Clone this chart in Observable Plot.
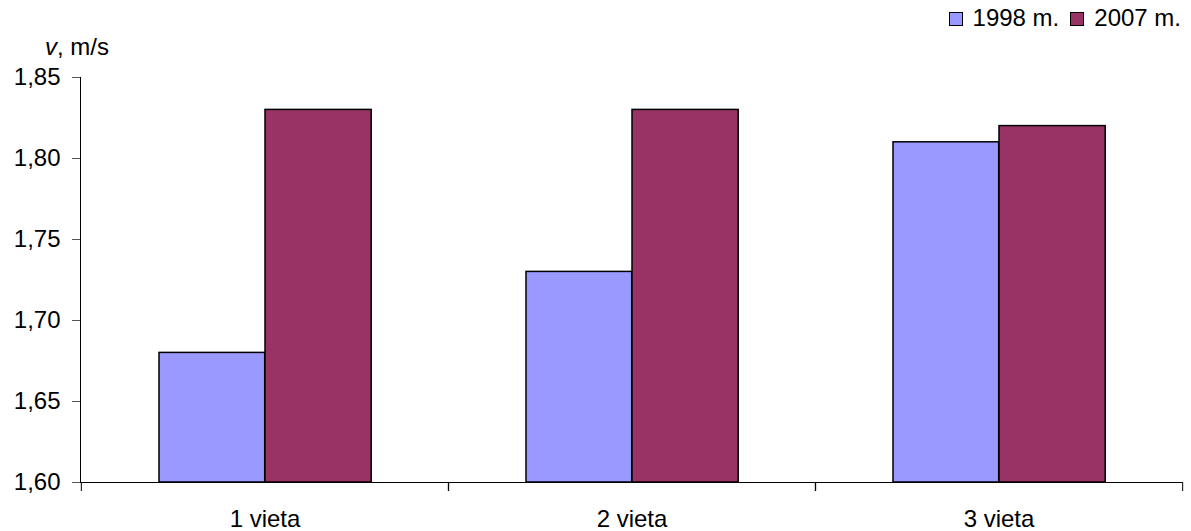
<!DOCTYPE html>
<html>
<head>
<meta charset="utf-8">
<script src="https://cdn.jsdelivr.net/npm/d3@7"></script>
<script src="https://cdn.jsdelivr.net/npm/@observablehq/plot@0.6"></script>
<style>
  body { margin: 0; background: #fff; font-family: "Liberation Sans", Arial, sans-serif; }
  #wrap { position: relative; width: 1191px; height: 531px; }
  #legend { position: absolute; top: 4px; right: 10px; display: flex; align-items: center; font-size: 24px; color: #000; }
  .item { display: flex; align-items: center; margin-left: 11px; }
  .sw { width: 12px; height: 12px; border: 1.5px solid #000; margin-right: 10px; margin-top: 2px; }
</style>
</head>
<body>
<div id="wrap"><div id="legend"></div></div>
<script>
const categories = ["1 vieta", "2 vieta", "3 vieta"];
const series = ["1998 m.", "2007 m."];
const values1998 = [1.68, 1.73, 1.81];
const values2007 = [1.83, 1.83, 1.82];
const colors = ["#9999FF", "#993366"];
const yTicks = [1.60, 1.65, 1.70, 1.75, 1.80, 1.85];
const yLabelItalic = "v";
const yLabelRest = ", m/s";

const data = categories.flatMap((c, i) => [
  {cat: c, series: series[0], value: values1998[i]},
  {cat: c, series: series[1], value: values2007[i]}
]);
const fmt = d => d3.format(".2f")(d).replace(".", ",");

const chart = Plot.plot({
  width: 1191,
  height: 531,
  marginLeft: 80,
  marginRight: 9,
  marginTop: 77,
  marginBottom: 49,
  style: {fontFamily: "'Liberation Sans', Arial, sans-serif", fontSize: "24px", color: "#000", background: "transparent"},
  x: {domain: categories, padding: 0, label: null},
  y: {domain: [1.6, 1.85], label: null},
  color: {domain: series, range: colors},
  marks: [
    Plot.barY(data.filter(d => d.series === series[0]), {x: "cat", y1: 1.6, y2: "value", fill: "series", stroke: "#000", strokeWidth: 1.5, insetLeft: 78, insetRight: 183.3}),
    Plot.barY(data.filter(d => d.series === series[1]), {x: "cat", y1: 1.6, y2: "value", fill: "series", stroke: "#000", strokeWidth: 1.5, insetLeft: 184, insetRight: 76.8}),
    Plot.ruleY([1.6], {stroke: "#000"}),
    Plot.axisY({ticks: yTicks, tickFormat: fmt, tickSize: 8, tickPadding: 12, label: null, stroke: "#555"}),
    Plot.axisX({tickSize: 0, tickPadding: 27, label: null}),
    Plot.axisX({tickSize: 9, tickFormat: () => "", dx: 183.67, label: null, stroke: "#000"}),
    Plot.axisX({tickSize: 9, tickFormat: () => "", dx: -183.67, label: null, stroke: "#000"}),
    Plot.frame({anchor: "left", stroke: "#000"})
  ]
});

const svg = d3.select(chart);
const t = svg.append("text").attr("x", 77).attr("y", 55).attr("font-size", 24).attr("fill", "#000");
t.append("tspan").attr("font-style", "italic").text(yLabelItalic);
t.append("tspan").text(yLabelRest);

document.getElementById("wrap").prepend(chart);

const legend = document.getElementById("legend");
series.forEach((s, i) => {
  const item = document.createElement("div");
  item.className = "item";
  const sw = document.createElement("span");
  sw.className = "sw";
  sw.style.background = colors[i];
  const lab = document.createElement("span");
  lab.textContent = s;
  item.appendChild(sw);
  item.appendChild(lab);
  legend.appendChild(item);
});
</script>
</body>
</html>
